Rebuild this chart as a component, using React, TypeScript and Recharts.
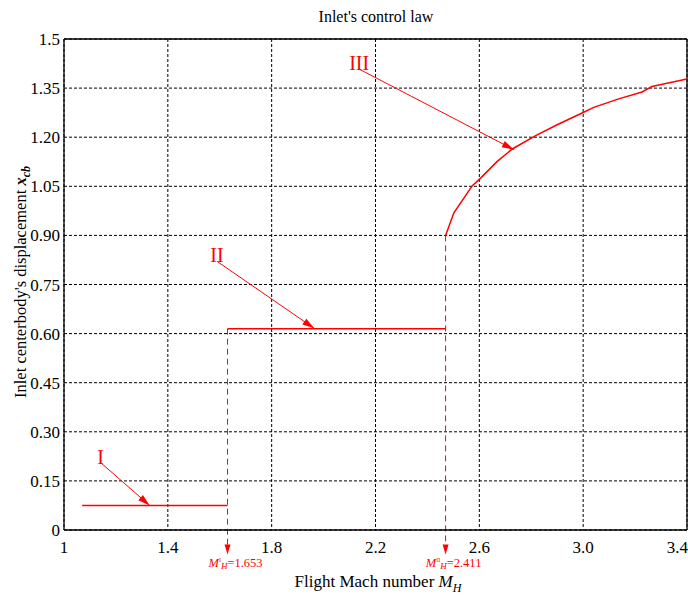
import React from 'react';
import { LineChart, Line, XAxis, YAxis, CartesianGrid, ReferenceLine } from 'recharts';

// regime I: low supersonic, fixed centerbody
const machI = [1.07, 1.63];
const xcbI = [0.075, 0.075];

// regime II: second fixed position
const machII = [1.63, 2.47];
const xcbII = [0.615, 0.615];

// regime III: continuous control
const machIII = [2.47, 2.502, 2.573, 2.605, 2.669, 2.727, 2.817, 2.9, 2.996, 3.041, 3.137, 3.227, 3.265, 3.4];
const xcbIII = [0.9, 0.969, 1.052, 1.075, 1.126, 1.164, 1.205, 1.238, 1.274, 1.291, 1.317, 1.338, 1.355, 1.378];

const xTicks = [1, 1.4, 1.8, 2.2, 2.6, 3.0, 3.4];
const yTicks = [0, 0.15, 0.3, 0.45, 0.6, 0.75, 0.9, 1.05, 1.2, 1.35, 1.5];

// switching Mach numbers: where drawn, what is printed
const switchMach = [1.63, 2.47];
const switchFrom = [0.615, 0.9];
const switchSup = ['I', 'II'];
const switchValue = ['1.653', '2.411'];
const switchArrowTip = -0.075;

// regime callouts: label, start (mach, xcb), end (mach, xcb)
const calloutText = ['I', 'II', 'III'];
const calloutStart = [[1.141, 0.206], [1.589, 0.821], [2.137, 1.408]];
const calloutEnd = [[1.33, 0.075], [1.964, 0.616], [2.733, 1.162]];

const RED = '#ff0000';
const FONT = '"Liberation Serif", "DejaVu Serif", serif';

const toRows = (ms: number[], vs: number[]) => ms.map((m, i) => ({ m, x: vs[i] }));

const arrowHead = (x1: number, y1: number, x2: number, y2: number, len: number, half: number) => {
  const dx = x2 - x1;
  const dy = y2 - y1;
  const d = Math.sqrt(dx * dx + dy * dy) || 1;
  const ux = dx / d;
  const uy = dy / d;
  const bx = x2 - ux * len;
  const by = y2 - uy * len;
  return `${x2},${y2} ${bx - uy * half},${by + ux * half} ${bx + uy * half},${by - ux * half}`;
};

const calloutShape = (label: string) => (p: any) => {
  const { x1, y1, x2, y2 } = p;
  return (
    <g>
      <line x1={x1} y1={y1} x2={x2} y2={y2} stroke={RED} strokeWidth={1} />
      <polygon points={arrowHead(x1, y1, x2, y2, 12, 3.5)} fill={RED} />
      <text x={x1} y={y1 + 1} textAnchor="middle" fontFamily={FONT} fontSize={20} fill={RED}>
        {label}
      </text>
    </g>
  );
};

const switchShape = (sup: string, value: string) => (p: any) => {
  const { x1, y1, x2, y2 } = p;
  return (
    <g>
      <line x1={x1} y1={y1} x2={x2} y2={y2 - 9} stroke={RED} strokeWidth={1} strokeDasharray="6 4" />
      <polygon points={arrowHead(x1, y1, x2, y2, 10, 3)} fill={RED} />
      <text x={x2 + 8} y={y2 + 12} textAnchor="middle" fontFamily={FONT} fontSize={12.5} fill={RED}>
        <tspan fontStyle="italic">M</tspan>
        <tspan fontSize={6} dy={-5}>{sup}</tspan>
        <tspan fontSize={9} fontStyle="italic" dy={7}>H</tspan>
        <tspan dy={-2}>={value}</tspan>
      </text>
    </g>
  );
};

const fmtX = (v: number) => (v === 1 ? '1' : v.toFixed(1));
const fmtY = (v: number) => (v === 0 ? '0' : v === 1.5 ? '1.5' : v.toFixed(2));

export default function App() {
  const W = 688;
  const H = 597;
  return (
    <div style={{ position: 'absolute', left: 0, top: 0, width: W, height: H, background: '#fff' }}>
      <LineChart width={W} height={H} margin={{ top: 39, right: 1, left: 0, bottom: 37 }}>
        <CartesianGrid stroke="#000" strokeDasharray="3 2" strokeWidth={1} horizontalValues={yTicks} verticalValues={xTicks} />
        <XAxis
          type="number"
          dataKey="m"
          domain={[1, 3.4]}
          ticks={xTicks}
          tickFormatter={fmtX}
          allowDataOverflow
          height={30}
          axisLine={{ stroke: '#000', strokeWidth: 1.3 }}
          tickLine={false}
          tickSize={0}
          tickMargin={11}
          tick={{ fill: '#000', fontSize: 17, fontFamily: FONT }}
        />
        <YAxis
          type="number"
          domain={[0, 1.5]}
          ticks={yTicks}
          tickFormatter={fmtY}
          allowDataOverflow
          width={64}
          axisLine={{ stroke: '#000', strokeWidth: 1.3 }}
          tickLine={false}
          tickSize={0}
          tickMargin={4}
          tick={{ fill: '#000', fontSize: 17, fontFamily: FONT }}
        />
        <ReferenceLine y={1.5} stroke="#000" strokeWidth={1.3} ifOverflow="visible" />
        <ReferenceLine x={3.4} stroke="#000" strokeWidth={1.3} ifOverflow="visible" />

        <Line data={toRows(machI, xcbI)} dataKey="x" stroke={RED} strokeWidth={1.5} dot={false} isAnimationActive={false} />
        <Line data={toRows(machII, xcbII)} dataKey="x" stroke={RED} strokeWidth={1.5} dot={false} isAnimationActive={false} />
        <Line data={toRows(machIII, xcbIII)} dataKey="x" stroke={RED} strokeWidth={1.5} dot={false} isAnimationActive={false} />

        {switchMach.map((m, i) => (
          <ReferenceLine
            key={'s' + i}
            segment={[{ x: m, y: switchFrom[i] }, { x: m, y: switchArrowTip }]}
            ifOverflow="visible"
            shape={switchShape(switchSup[i], switchValue[i])}
          />
        ))}
        {calloutText.map((t, i) => (
          <ReferenceLine
            key={'c' + i}
            segment={[
              { x: calloutStart[i][0], y: calloutStart[i][1] },
              { x: calloutEnd[i][0], y: calloutEnd[i][1] },
            ]}
            ifOverflow="visible"
            shape={calloutShape(t)}
          />
        ))}
      </LineChart>
      <svg width={W} height={H} style={{ position: 'absolute', left: 0, top: 0, pointerEvents: 'none' }}>
        <text x={376} y={22} textAnchor="middle" fontFamily={FONT} fontSize={16} fill="#000">
          Inlet's control law
        </text>
        <text x={378} y={587} textAnchor="middle" fontFamily={FONT} fontSize={17} fill="#000">
          Flight Mach number <tspan fontStyle="italic">M</tspan>
          <tspan fontStyle="italic" fontSize={12} dy={5}>H</tspan>
        </text>
        <text
          transform="translate(26, 282) rotate(-90)"
          textAnchor="middle"
          fontFamily={FONT}
          fontSize={16.5}
          fill="#000"
        >
          Inlet centerbody's displacement <tspan fontStyle="italic" fontWeight="bold">x</tspan>
          <tspan fontStyle="italic" fontWeight="bold" fontSize={12} dy={4}>cb</tspan>
        </text>
      </svg>
    </div>
  );
}
